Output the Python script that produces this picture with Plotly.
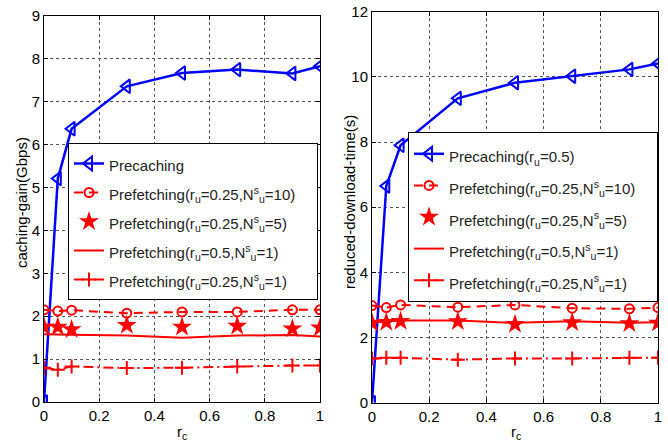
import plotly.graph_objects as go

rc = [0, 0.05, 0.1, 0.3, 0.5, 0.7, 0.9, 1.0]

gain_precaching = [0, 5.21, 6.37, 7.36, 7.67, 7.75, 7.66, 7.83]
gain_pf_025_10 = [2.15, 2.12, 2.14, 2.07, 2.1, 2.1, 2.15, 2.15]
gain_pf_025_5 = [1.75, 1.75, 1.69, 1.79, 1.75, 1.77, 1.71, 1.73]
gain_pf_05_1 = [1.58, 1.57, 1.57, 1.55, 1.5, 1.55, 1.56, 1.53]
gain_pf_025_1 = [0.80, 0.75, 0.83, 0.79, 0.80, 0.83, 0.85, 0.85]

time_precaching = [0, 6.65, 7.9, 9.34, 9.82, 10.02, 10.23, 10.41]
time_pf_025_10 = [2.98, 2.92, 3.0, 2.93, 3.0, 2.9, 2.88, 2.92]
time_pf_025_5 = [2.45, 2.47, 2.5, 2.49, 2.41, 2.46, 2.43, 2.45]
time_pf_05_1 = [2.46, 2.48, 2.52, 2.52, 2.45, 2.5, 2.45, 2.47]
time_pf_025_1 = [1.36, 1.38, 1.38, 1.32, 1.36, 1.36, 1.38, 1.38]

x_ticks = [0, 0.2, 0.4, 0.6, 0.8, 1]
x_ticktext = ["0", "0.2", "0.4", "0.6", "0.8", "1"]
left_yticks = list(range(0, 10))
right_yticks = list(range(0, 13, 2))

x_title = "r<sub>c</sub>"
left_y_title = "caching-gain(Gbps)"
right_y_title = "reduced-download-time(s)"

names_left = [
    "Precaching",
    "Prefetching(r<sub>u</sub>=0.25,N<sup>s</sup><sub>u</sub>=10)",
    "Prefetching(r<sub>u</sub>=0.25,N<sup>s</sup><sub>u</sub>=5)",
    "Prefetching(r<sub>u</sub>=0.5,N<sup>s</sup><sub>u</sub>=1)",
    "Prefetching(r<sub>u</sub>=0.25,N<sup>s</sup><sub>u</sub>=1)",
]
names_right = ["Precaching(r<sub>u</sub>=0.5)"] + names_left[1:]

BLUE = "#0000ff"
RED = "#ff0000"
FONT = "Liberation Sans, Arial, sans-serif"

fig = go.Figure()


def add_set(xa, ya, leg, names, ys, pad):
    pre, c10, s5, l1, p1 = ys
    nm = list(names)
    nm[1] = nm[1] + "\u00a0" * pad  # widen the legend box a little
    nm = ['<span style="font-size:15px">' + n + "</span>" for n in nm]
    fig.add_trace(go.Scatter(
        x=rc, y=pre, name=nm[0], xaxis=xa, yaxis=ya, legend=leg,
        mode="lines+markers",
        line=dict(color=BLUE, width=2.5),
        marker=dict(symbol="triangle-left-open", size=12, color=BLUE,
                    line=dict(color=BLUE, width=2))))
    fig.add_trace(go.Scatter(
        x=rc, y=c10, name=nm[1], xaxis=xa, yaxis=ya, legend=leg,
        mode="lines+markers",
        line=dict(color=RED, width=2, dash="9px,6px"),
        marker=dict(symbol="circle-open", size=9, color=RED,
                    line=dict(color=RED, width=2))))
    fig.add_trace(go.Scatter(
        x=rc, y=s5, name=nm[2], xaxis=xa, yaxis=ya, legend=leg,
        mode="markers",
        marker=dict(symbol="star", size=15, color=RED,
                    line=dict(color=RED, width=0))))
    fig.add_trace(go.Scatter(
        x=rc, y=l1, name=nm[3], xaxis=xa, yaxis=ya, legend=leg,
        mode="lines",
        line=dict(color=RED, width=2)))
    fig.add_trace(go.Scatter(
        x=rc, y=p1, name=nm[4], xaxis=xa, yaxis=ya, legend=leg,
        mode="lines+markers",
        line=dict(color=RED, width=2, dash="10px,4px,2px,4px"),
        marker=dict(symbol="cross-thin-open", size=10, color=RED,
                    line=dict(color=RED, width=2))))


add_set("x", "y", "legend",
        names_left,
        [gain_precaching, gain_pf_025_10, gain_pf_025_5, gain_pf_05_1, gain_pf_025_1], 4)
add_set("x2", "y2", "legend2",
        names_right,
        [time_precaching, time_pf_025_10, time_pf_025_5, time_pf_05_1, time_pf_025_1], 4)

W, H = 668, 448

axis_common = dict(
    showline=True, linecolor="black", linewidth=1, mirror="ticks",
    ticks="inside", ticklen=4, tickcolor="black",
    showgrid=True, gridcolor="#555555", griddash="dot", gridwidth=1,
    zeroline=False, automargin=False,
    tickfont=dict(family=FONT, size=15, color="black"),
)

leg_common = dict(
    bgcolor="white", bordercolor="black", borderwidth=1,
    xanchor="left", yanchor="top", itemwidth=30,
    tracegroupgap=0,
)

title_font = dict(family=FONT, size=15, color="black")

fig.update_layout(
    width=W, height=H,
    margin=dict(l=0, r=0, t=0, b=0),
    paper_bgcolor="white", plot_bgcolor="white",
    font=dict(family=FONT, size=15, color="black"),
    xaxis=dict(domain=[44 / W, 320 / W], range=[0, 1], tickvals=x_ticks,
               ticktext=x_ticktext, anchor="y", **axis_common),
    yaxis=dict(domain=[1 - 402 / H, 1 - 16 / H], range=[0, 9], tickvals=left_yticks,
               anchor="x", **axis_common),
    xaxis2=dict(domain=[372 / W, 658 / W], range=[0, 1], tickvals=x_ticks,
                ticktext=x_ticktext, anchor="y2", **axis_common),
    yaxis2=dict(domain=[1 - 402.7 / H, 1 - 11.7 / H], range=[0, 12], tickvals=right_yticks,
                anchor="x2", **axis_common),
    legend=dict(x=68 / W, y=1 - 143 / H,
                font=dict(family=FONT, size=20, color="#222222"), **leg_common),
    legend2=dict(x=408 / W, y=1 - 132 / H,
                 font=dict(family=FONT, size=22, color="#222222"), **leg_common),
    annotations=[
        dict(text=x_title, xref="paper", yref="paper", x=182 / W, y=1 - 432 / H,
             showarrow=False, font=title_font, xanchor="center", yanchor="middle"),
        dict(text=x_title, xref="paper", yref="paper", x=516 / W, y=1 - 432 / H,
             showarrow=False, font=title_font, xanchor="center", yanchor="middle"),
        dict(text=left_y_title, xref="paper", yref="paper", x=21 / W, y=1 - 203 / H,
             showarrow=False, font=title_font, textangle=-90,
             xanchor="center", yanchor="middle"),
        dict(text=right_y_title, xref="paper", yref="paper", x=349 / W, y=1 - 202 / H,
             showarrow=False, font=title_font, textangle=-90,
             xanchor="center", yanchor="middle"),
    ],
)

fig.write_html("out.html", config={"displayModeBar": False},
               post_script="document.body.style.margin='0px';")
